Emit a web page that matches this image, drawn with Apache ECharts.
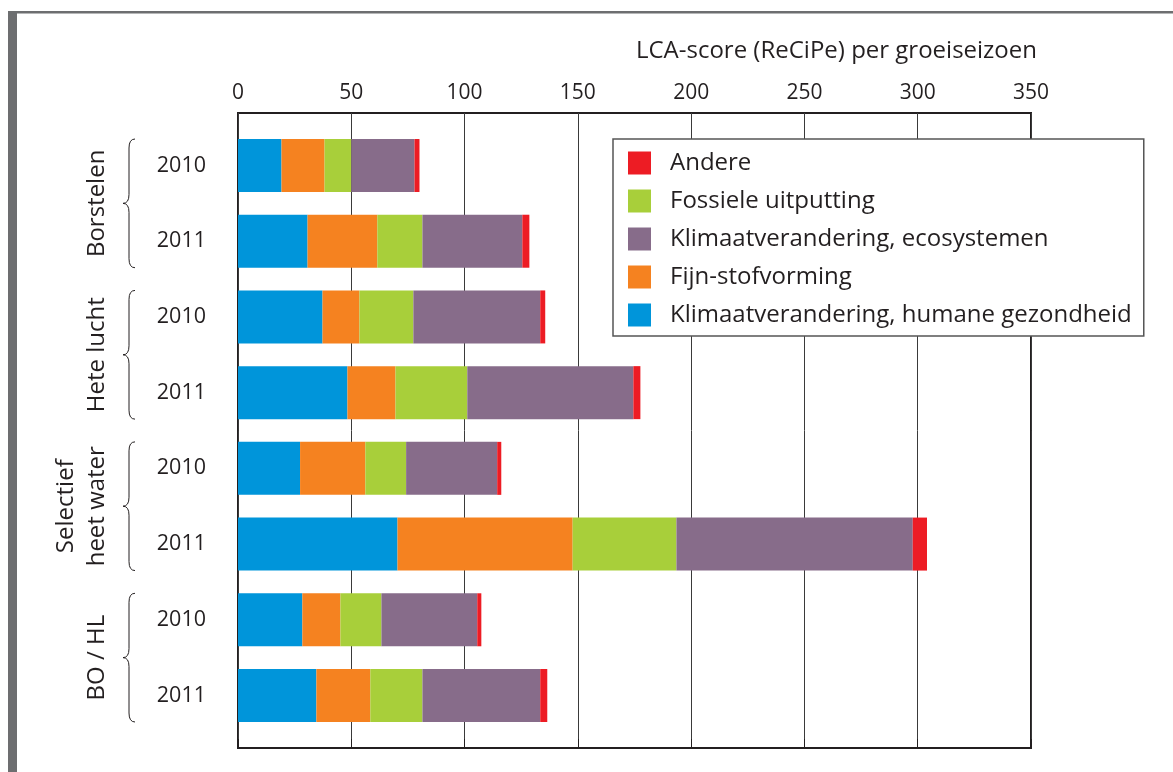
<!DOCTYPE html>
<html>
<head>
<meta charset="utf-8">
<script src="https://cdn.jsdelivr.net/npm/echarts@6/dist/echarts.min.js"></script>
<style>
html,body{margin:0;padding:0;background:#fff;}
#chart{width:1173px;height:772px;}
</style>
</head>
<body>
<div id="chart"></div>
<script>
// ---- data ----
const groups = ['Borstelen', 'Hete lucht', 'Selectief\nheet water', 'BO / HL'];
const years = ['2010', '2011'];
const xTicks = [0, 50, 100, 150, 200, 250, 300, 350];
const axisTitle = 'LCA-score (ReCiPe) per groeiseizoen';

const seriesNames = ['Klimaatverandering, humane gezondheid', 'Fijn-stofvorming', 'Fossiele uitputting', 'Klimaatverandering, ecosystemen', 'Andere'];
const legendOrder = ['Andere', 'Fossiele uitputting', 'Klimaatverandering, ecosystemen', 'Fijn-stofvorming', 'Klimaatverandering, humane gezondheid'];

const humaan   = [19.2, 30.7, 37.3, 48.3, 27.4, 70.4, 28.4, 34.6];
const fijnstof = [19.0, 30.8, 16.3, 21.2, 28.8, 77.3, 16.8, 23.8];
const fossiel  = [11.8, 19.9, 23.8, 31.7, 18.0, 45.8, 18.1, 23.0];
const ecosys   = [27.9, 44.1, 56.0, 73.3, 40.2, 104.3, 42.3, 52.0];
const andere   = [2.2, 3.1, 2.2, 3.1, 1.8, 6.3, 1.8, 3.1];

// ---- build ----
const seriesData = [humaan, fijnstof, fossiel, ecosys, andere];
const colors = ['#0095da', '#f58220', '#a8cf3a', '#876c8a', '#ed1c24'];
const categories = [];
groups.forEach(g => years.forEach(y => categories.push(g + '|' + y)));

const FONT = 'Open Sans';
const TXT = '#231f20';
const BAR_W = 53;

const chart = echarts.init(document.getElementById('chart'), null, {renderer: 'canvas'});

const option = {
  animation: false,
  backgroundColor: '#fff',
  textStyle: {fontFamily: FONT},
  title: {
    text: axisTitle,
    right: 131,
    top: 34,
    textStyle: {fontFamily: FONT, fontSize: 24, fontWeight: 'normal', color: TXT}
  },
  legend: {
    data: legendOrder,
    orient: 'vertical',
    left: 613,
    top: 139,
    itemWidth: 23,
    itemHeight: 23,
    itemGap: 14,
    icon: 'rect',
    padding: [12, 12, 9, 15],
    backgroundColor: '#fff',
    borderColor: '#555',
    borderWidth: 1.5,
    borderRadius: 0,
    textStyle: {fontFamily: FONT, fontSize: 24, color: TXT, padding: [0, 0, 0, 14], lineHeight: 23},
    selectedMode: false
  },
  grid: [
    {left: 238, right: 142, top: 113, bottom: 24, show: true, borderColor: TXT, borderWidth: 2, backgroundColor: 'transparent'},
    {left: 238, right: 142, top: 127.65, bottom: 38.65, show: false}
  ],
  xAxis: [
    {
      gridIndex: 0, type: 'value', position: 'top', min: 0, max: 350, interval: 50,
      axisLine: {show: true, lineStyle: {color: TXT, width: 2}},
      axisTick: {show: true, inside: false, length: 9, lineStyle: {color: TXT, width: 1}},
      axisLabel: {fontFamily: FONT, fontSize: 21, color: TXT, margin: 9,
        formatter: v => xTicks.indexOf(v) >= 0 ? String(v) : ''},
      splitLine: {show: true, lineStyle: {color: '#3a3a3a', width: 1}}
    },
    {gridIndex: 1, type: 'value', min: 0, max: 350, show: false}
  ],
  yAxis: [
    {gridIndex: 0, type: 'value', show: false},
    {
      gridIndex: 1, type: 'category', data: categories, inverse: true,
      axisLine: {show: false}, axisTick: {show: false}, splitLine: {show: false},
      axisLabel: {fontFamily: FONT, fontSize: 21.5, color: TXT, margin: 32,
        formatter: v => v.split('|')[1]}
    }
  ],
  series: seriesNames.map((name, i) => ({
    name: name,
    type: 'bar',
    stack: 'total',
    xAxisIndex: 1,
    yAxisIndex: 1,
    barWidth: BAR_W,
    itemStyle: {color: colors[i]},
    data: seriesData[i]
  }))
};

chart.setOption(option);

// ---- decorations: page frame, braces and group labels ----
function braceElements(x0, xr, xt, y1, ym, y2) {
  const r = 9;
  const st = {fill: 'none', stroke: TXT, lineWidth: 1};
  const curve = (a, b, c, d, e, f) => ({type: 'bezierCurve', silent: true,
    shape: {x1: a, y1: b, cpx1: c, cpy1: d, x2: e, y2: f}, style: st});
  const line = (a, b, c, d) => ({type: 'line', silent: true,
    shape: {x1: a, y1: b, x2: c, y2: d}, style: st});
  return [
    curve(x0, y1, xr, y1, xr, y1 + r),
    line(xr, y1 + r, xr, ym - r),
    curve(xr, ym - r, xr, ym, xt, ym),
    curve(xt, ym, xr, ym, xr, ym + r),
    line(xr, ym + r, xr, y2 - r),
    curve(xr, y2 - r, xr, y2, x0, y2)
  ];
}

const graphics = [
  {type: 'rect', shape: {x: 8, y: 11, width: 9, height: 761}, style: {fill: '#6d6e70'}, silent: true},
  {type: 'rect', shape: {x: 8, y: 11, width: 1165, height: 2.5}, style: {fill: '#6d6e70'}, silent: true}
];
groups.forEach((g, gi) => {
  const i0 = gi * years.length;
  const i1 = i0 + years.length - 1;
  const c0 = chart.convertToPixel({yAxisIndex: 1}, categories[i0]);
  const c1 = chart.convertToPixel({yAxisIndex: 1}, categories[i1]);
  const y1 = c0 - BAR_W / 2, y2 = c1 + BAR_W / 2, ym = (c0 + c1) / 2;
  braceElements(135, 129, 123, y1, ym, y2).forEach(e => graphics.push(e));
  const multi = g.indexOf('\n') >= 0;
  graphics.push({
    type: 'text', silent: true,
    x: multi ? 82 : 97, y: ym, rotation: Math.PI / 2,
    style: {text: g, fontFamily: FONT, fontSize: 24, fill: TXT, align: 'center', verticalAlign: 'middle', lineHeight: 31}
  });
});
chart.setOption({graphic: graphics});
</script>
</body>
</html>
